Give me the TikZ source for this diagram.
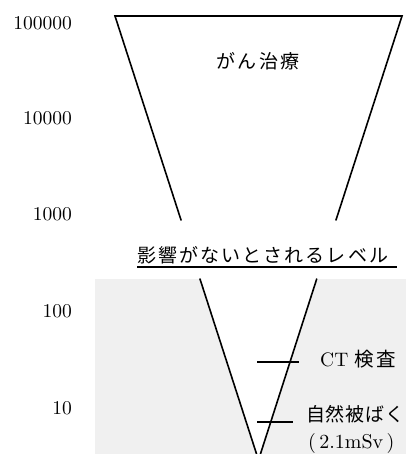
\documentclass[tikz,border=0pt]{standalone}
\usepackage{fontspec}
\setmainfont{lmroman10-regular.otf}
\newfontfamily\jp[LetterSpace=11]{Noto Sans CJK JP}
\newfontfamily\jpp{Noto Sans CJK JP}
\begin{document}
\begin{tikzpicture}[x=1pt,y=-1pt,
  num/.style={anchor=east,inner sep=0pt,font=\fontsize{19.5}{22}\selectfont},
  jlab/.style={inner sep=0pt,font=\fontsize{19}{22}\selectfont\jp},
  lab/.style={anchor=west,inner sep=0pt,font=\fontsize{19.5}{22}\selectfont},
  vline/.style={line width=1.6pt,line cap=round,line join=miter},
  tick/.style={line width=1.6pt}]
\useasboundingbox (0,0) rectangle (406,454);
\clip (0,0) rectangle (406,454);
% coordinates of the V
\coordinate (TL) at (115,16);
\coordinate (TR) at (402,16);
\coordinate (L1) at (181,220);
\coordinate (R1) at (336,220);
\coordinate (L2) at (200,279);
\coordinate (R2) at (316.7,279);
\coordinate (A) at (258.5,460);
% gray zone
\fill[gray!12] (95,279) rectangle (406,454);
\fill[white] (L2) -- (A) -- (R2) -- cycle;
% V shape
\draw[vline] (L1) -- (TL) -- (TR) -- (R1);
\draw[vline] (L2) -- (A) -- (R2);
% axis values
\node[num] (v5) at (72,23) {100000};
\node[num] (v4) at (72,118.5) {10000};
\node[num] (v3) at (72,214) {1000};
\node[num] (v2) at (72,311.5) {100};
\node[num] (v1) at (72,408.5) {10};
% labels
\node[jlab] (gan) at (258,61) {がん治療};
\node[jlab,anchor=west] (lvl) at (137,255) {影響がないとされるレベル};
\draw[line width=1.2pt] (137,267) -- (397,267);
% ticks
\coordinate (ct1) at (257,362);
\coordinate (ct2) at (299,362);
\coordinate (nt1) at (257,422);
\coordinate (nt2) at (293,422);
\draw[tick] (ct1) -- (ct2);
\draw[tick] (nt1) -- (nt2);
\node[lab] (ct) at (320,359.5) {CT {\jp 検査}};
\node[jlab,anchor=west,font=\fontsize{19}{22}\selectfont\jpp\addfontfeature{LetterSpace=4}] (nat) at (306,414.5) {自然被ばく};
\node[lab,font=\fontsize{20}{22}\selectfont] (sv) at (308,443.5) {(\,2.1mSv\,)};
\end{tikzpicture}
\end{document}
